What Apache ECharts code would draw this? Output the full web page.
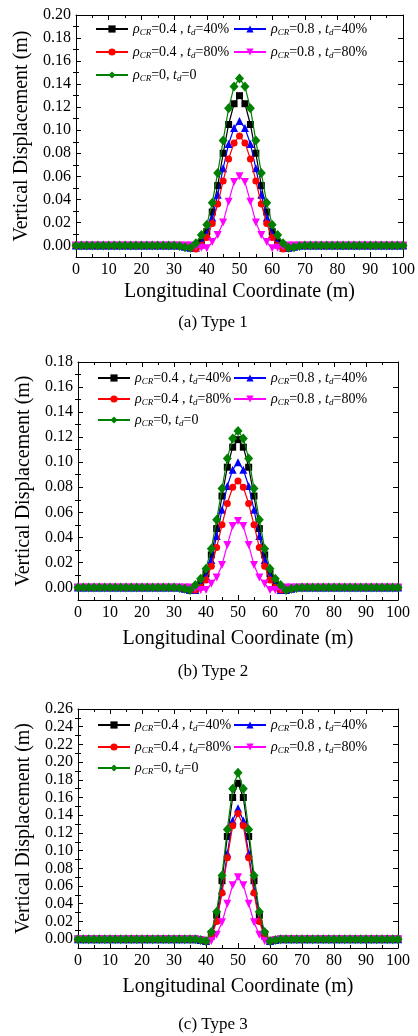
<!DOCTYPE html>
<html><head><meta charset="utf-8">
<script src="https://cdn.jsdelivr.net/npm/echarts@6/dist/echarts.min.js"></script>
<style>html,body{margin:0;padding:0;background:#fff}#c{width:418px;height:1036px}</style>
</head><body><div id="c"></div>
<script>
// ---------- DATA ----------
const xCoords = [0, 1.667, 3.333, 5, 6.667, 8.333, 10, 11.667, 13.333, 15, 16.667, 18.333, 20, 21.667, 23.333, 25, 26.667, 28.333,
  30, 31.667, 33.333, 35, 36.667, 38.333, 40, 41.667, 43.333, 45, 46.667, 48.333, 50, 51.667, 53.333, 55, 56.667, 58.333, 60, 61.667, 63.333, 65, 66.667, 68.333, 70,
  71.667, 73.333, 75, 76.667, 78.333, 80, 81.667, 83.333, 85, 86.667, 88.333, 90, 91.667, 93.333, 95, 96.667, 98.333, 100];
// values for x = 30 ... 70 (indices 18..42); outside that range the curves lie on 0.00
const seriesNames = ['ρCR=0.4 , td=40%', 'ρCR=0.8 , td=40%', 'ρCR=0.4 , td=80%', 'ρCR=0.8 , td=80%', 'ρCR=0, td=0'];

// (a) Type 1
const t1_r04_t40 = [0, 0, -0.001, -0.002, -0.001, 0.003, 0.012, 0.029, 0.052, 0.080, 0.105, 0.123, 0.130, 0.123, 0.105, 0.080, 0.052, 0.029, 0.012, 0.003, -0.001, -0.002, -0.001, 0, 0];
const t1_r08_t40 = [0, 0, -0.001, -0.002, -0.002, 0.002, 0.010, 0.024, 0.044, 0.067, 0.088, 0.102, 0.108, 0.102, 0.088, 0.067, 0.044, 0.024, 0.010, 0.002, -0.002, -0.002, -0.001, 0, 0];
const t1_r04_t80 = [0, 0, -0.001, -0.002, -0.003, 0, 0.007, 0.019, 0.036, 0.056, 0.075, 0.089, 0.095, 0.089, 0.075, 0.056, 0.036, 0.019, 0.007, 0, -0.003, -0.002, -0.001, 0, 0];
const t1_r08_t80 = [0, 0, 0, 0, -0.001, -0.002, -0.0025, 0.003, 0.009, 0.020, 0.038, 0.055, 0.060, 0.055, 0.038, 0.020, 0.009, 0.003, -0.0025, -0.002, -0.001, 0, 0, 0, 0];
const t1_r0_t0   = [0, -0.0005, -0.0015, -0.002, 0.002, 0.009, 0.018, 0.037, 0.063, 0.091, 0.119, 0.138, 0.145, 0.138, 0.119, 0.091, 0.063, 0.037, 0.018, 0.009, 0.002, -0.002, -0.0015, -0.0005, 0];
// (b) Type 2
const t2_r04_t40 = [0, 0, -0.001, -0.002, -0.001, 0.003, 0.011, 0.026, 0.047, 0.073, 0.096, 0.112, 0.118, 0.112, 0.096, 0.073, 0.047, 0.026, 0.011, 0.003, -0.001, -0.002, -0.001, 0, 0];
const t2_r08_t40 = [0, 0, -0.001, -0.002, -0.002, 0.002, 0.009, 0.022, 0.041, 0.062, 0.081, 0.094, 0.100, 0.094, 0.081, 0.062, 0.041, 0.022, 0.009, 0.002, -0.002, -0.002, -0.001, 0, 0];
const t2_r04_t80 = [0, 0, -0.001, -0.002, -0.002, 0, 0.006, 0.017, 0.032, 0.050, 0.067, 0.080, 0.085, 0.080, 0.067, 0.050, 0.032, 0.017, 0.006, 0, -0.002, -0.002, -0.001, 0, 0];
const t2_r08_t80 = [0, 0, 0, 0, -0.001, -0.002, -0.002, 0.003, 0.008, 0.018, 0.034, 0.049, 0.053, 0.049, 0.034, 0.018, 0.008, 0.003, -0.002, -0.002, -0.001, 0, 0, 0, 0];
const t2_r0_t0   = [0, -0.0005, -0.001, -0.002, 0.002, 0.007, 0.015, 0.031, 0.054, 0.079, 0.103, 0.119, 0.125, 0.119, 0.103, 0.079, 0.054, 0.031, 0.015, 0.007, 0.002, -0.002, -0.001, -0.0005, 0];
// (c) Type 3
const t3_r04_t40 = [0, 0, 0, 0, 0, -0.001, -0.002, 0.006, 0.027, 0.066, 0.116, 0.160, 0.176, 0.160, 0.116, 0.066, 0.027, 0.006, -0.002, -0.001, 0, 0, 0, 0, 0];
const t3_r08_t40 = [0, 0, 0, 0, 0, -0.001, -0.002, 0.004, 0.022, 0.055, 0.097, 0.134, 0.148, 0.134, 0.097, 0.055, 0.022, 0.004, -0.002, -0.001, 0, 0, 0, 0, 0];
const t3_r04_t80 = [0, 0, 0, 0, 0, -0.001, -0.002, 0.003, 0.020, 0.052, 0.092, 0.128, 0.142, 0.128, 0.092, 0.052, 0.020, 0.003, -0.002, -0.001, 0, 0, 0, 0, 0];
const t3_r08_t80 = [0, 0, 0, 0, 0, -0.001, -0.002, -0.002, 0.005, 0.019, 0.040, 0.061, 0.070, 0.061, 0.040, 0.019, 0.005, -0.002, -0.002, -0.001, 0, 0, 0, 0, 0];
const t3_r0_t0   = [0, 0, 0, 0, 0, -0.001, -0.002, 0.008, 0.031, 0.072, 0.124, 0.170, 0.188, 0.170, 0.124, 0.072, 0.031, 0.008, -0.002, -0.001, 0, 0, 0, 0, 0];

const xTicks = [0, 10, 20, 30, 40, 50, 60, 70, 80, 90, 100];
const yTicks1 = [0.00, 0.02, 0.04, 0.06, 0.08, 0.10, 0.12, 0.14, 0.16, 0.18, 0.20];
const yTicks2 = [0.00, 0.02, 0.04, 0.06, 0.08, 0.10, 0.12, 0.14, 0.16, 0.18];
const yTicks3 = [0.00, 0.02, 0.04, 0.06, 0.08, 0.10, 0.12, 0.14, 0.16, 0.18, 0.20, 0.22, 0.24, 0.26];
const captions = ['(a) Type 1', '(b) Type 2', '(c) Type 3'];
const xTitle = 'Longitudinal Coordinate (m)';
const yTitle = 'Vertical Displacement (m)';

// ---------- LAYOUT / STYLE ----------
const FONT = 'Liberation Serif';
const colors = ['#000000', '#0000ff', '#ff0000', '#ff00ff', '#008000'];
const symbols = ['rect', 'triangle', 'circle', 'triangle', 'diamond'];
const symRot = [0, 0, 0, 180, 0];
const symSize = [7, 8, 7, 8, [9, 10]];
const richNames = {
  'ρCR=0.4 , td=40%': '{i|ρ}{s|CR}{n|=0.4 , }{i|t}{s|d}{n|=40%}',
  'ρCR=0.8 , td=40%': '{i|ρ}{s|CR}{n|=0.8 , }{i|t}{s|d}{n|=40%}',
  'ρCR=0.4 , td=80%': '{i|ρ}{s|CR}{n|=0.4 , }{i|t}{s|d}{n|=80%}',
  'ρCR=0.8 , td=80%': '{i|ρ}{s|CR}{n|=0.8 , }{i|t}{s|d}{n|=80%}',
  'ρCR=0, td=0': '{i|ρ}{s|CR}{n|=0, }{i|t}{s|d}{n|=0}'
};

const panels = [
  { grid: {left: 76, top: 15, width: 327, height: 242}, ymax: 0.20, ticks: yTicks1, xGap: 25, cap: 323,
    data: [t1_r04_t40, t1_r08_t40, t1_r04_t80, t1_r08_t80, t1_r0_t0],
    leg: {cols: [95, 233], rows: [30, 53, 76]} },
  { grid: {left: 78, top: 362, width: 320, height: 238}, ymax: 0.18, ticks: yTicks2, xGap: 29, cap: 672,
    data: [t2_r04_t40, t2_r08_t40, t2_r04_t80, t2_r08_t80, t2_r0_t0],
    leg: {cols: [97, 233], rows: [379, 400, 421]} },
  { grid: {left: 78, top: 709, width: 320, height: 239}, ymax: 0.26, ticks: yTicks3, xGap: 29, cap: 1025,
    data: [t3_r04_t40, t3_r08_t40, t3_r04_t80, t3_r08_t80, t3_r0_t0],
    leg: {cols: [97, 233], rows: [726, 748, 769]} }
];
// legend slot (row, col) for each series
const legSlot = [[0, 0], [0, 1], [1, 0], [1, 1], [2, 0]];

const lineBlack = {color: '#000', width: 1};
const grids = [], xAxes = [], yAxes = [], series = [], legends = [], graphics = [];

function fullSeries(core) {
  const out = [];
  for (let i = 0; i < xCoords.length; i++) {
    const j = i - 18;
    out.push([xCoords[i], (j >= 0 && j < core.length) ? core[j] : 0]);
  }
  return out;
}

panels.forEach((p, k) => {
  grids.push(Object.assign({containLabel: false}, p.grid));
  const minorVals = p.ticks.slice(0, -1).map(v => +(v + 0.01).toFixed(3));
  xAxes.push({
    type: 'value', gridIndex: k, min: 0, max: 100, interval: 10, position: 'bottom',
    axisLine: {show: true, onZero: false, lineStyle: lineBlack},
    axisTick: {show: true, inside: true, length: 5, lineStyle: lineBlack},
    minorTick: {show: true, splitNumber: 2, length: 3, lineStyle: lineBlack},
    axisLabel: {color: '#000', fontFamily: FONT, fontSize: 16, margin: 5},
    splitLine: {show: false}, minorSplitLine: {show: false},
    name: xTitle, nameLocation: 'middle', nameGap: p.xGap,
    nameTextStyle: {color: '#000', fontFamily: FONT, fontSize: 20}
  });
  xAxes.push({
    type: 'value', gridIndex: k, min: 0, max: 100, interval: 10, position: 'top',
    axisLine: {show: true, onZero: false, lineStyle: lineBlack},
    axisTick: {show: true, inside: true, length: 5, lineStyle: lineBlack},
    minorTick: {show: true, splitNumber: 2, length: 3, lineStyle: lineBlack},
    axisLabel: {show: false}, splitLine: {show: false}, minorSplitLine: {show: false}
  });
  // left major
  yAxes.push({
    type: 'value', gridIndex: k, min: -0.01, max: p.ymax, position: 'left',
    axisLine: {show: true, onZero: false, lineStyle: lineBlack},
    axisTick: {show: true, inside: true, length: 5, lineStyle: lineBlack, customValues: p.ticks},
    axisLabel: {color: '#000', fontFamily: FONT, fontSize: 16, margin: 5, customValues: p.ticks,
      formatter: v => (Math.abs(v) < 1e-9 ? 0 : v).toFixed(2)},
    splitLine: {show: false},
    name: yTitle, nameLocation: 'middle', nameGap: 41,
    nameTextStyle: {color: '#000', fontFamily: FONT, fontSize: 20}
  });
  // left minor
  yAxes.push({
    type: 'value', gridIndex: k, min: -0.01, max: p.ymax, position: 'left',
    axisLine: {show: false}, axisLabel: {show: false}, splitLine: {show: false},
    axisTick: {show: true, inside: true, length: 3, lineStyle: lineBlack, customValues: minorVals}
  });
  // right major
  yAxes.push({
    type: 'value', gridIndex: k, min: -0.01, max: p.ymax, position: 'right',
    axisLine: {show: true, onZero: false, lineStyle: lineBlack}, axisLabel: {show: false}, splitLine: {show: false},
    axisTick: {show: true, inside: true, length: 5, lineStyle: lineBlack, customValues: p.ticks}
  });
  // right minor
  yAxes.push({
    type: 'value', gridIndex: k, min: -0.01, max: p.ymax, position: 'right',
    axisLine: {show: false}, axisLabel: {show: false}, splitLine: {show: false},
    axisTick: {show: true, inside: true, length: 3, lineStyle: lineBlack, customValues: minorVals}
  });

  p.data.forEach((core, s) => {
    series.push({
      type: 'line', name: seriesNames[s], xAxisIndex: k * 2, yAxisIndex: k * 4,
      data: fullSeries(core),
      symbol: symbols[s], symbolSize: symSize[s], symbolRotate: symRot[s], showSymbol: true,
      itemStyle: {color: colors[s]},
      lineStyle: {color: colors[s], width: 1.2},
      animation: false, z: 2 + s
    });
    const slot = legSlot[s];
    legends.push({
      data: [seriesNames[s]], left: p.leg.cols[slot[1]], top: p.leg.rows[slot[0]] - 8,
      orient: 'horizontal', padding: 0, itemWidth: 32, itemHeight: 9, itemGap: 0,
      selectedMode: false,
      formatter: name => richNames[name],
      textStyle: {
        color: '#000', fontFamily: FONT, fontSize: 14,
        rich: {
          n: {fontFamily: FONT, fontSize: 14, color: '#000', lineHeight: 16},
          i: {fontFamily: FONT, fontSize: 14, fontStyle: 'italic', color: '#000', lineHeight: 16},
          s: {fontFamily: FONT, fontSize: 9, fontStyle: 'italic', color: '#000', lineHeight: 7, verticalAlign: 'bottom'}
        }
      }
    });
  });

  graphics.push({
    type: 'text', x: 213, y: p.cap,
    style: {text: captions[k], font: '17px "Liberation Serif"', fill: '#000', align: 'center', verticalAlign: 'middle'}
  });
});

const chart = echarts.init(document.getElementById('c'), null, {renderer: 'canvas'});
chart.setOption({
  animation: false,
  backgroundColor: '#fff',
  grid: grids, xAxis: xAxes, yAxis: yAxes, series: series, legend: legends, graphic: graphics
});
</script>
</body></html>
